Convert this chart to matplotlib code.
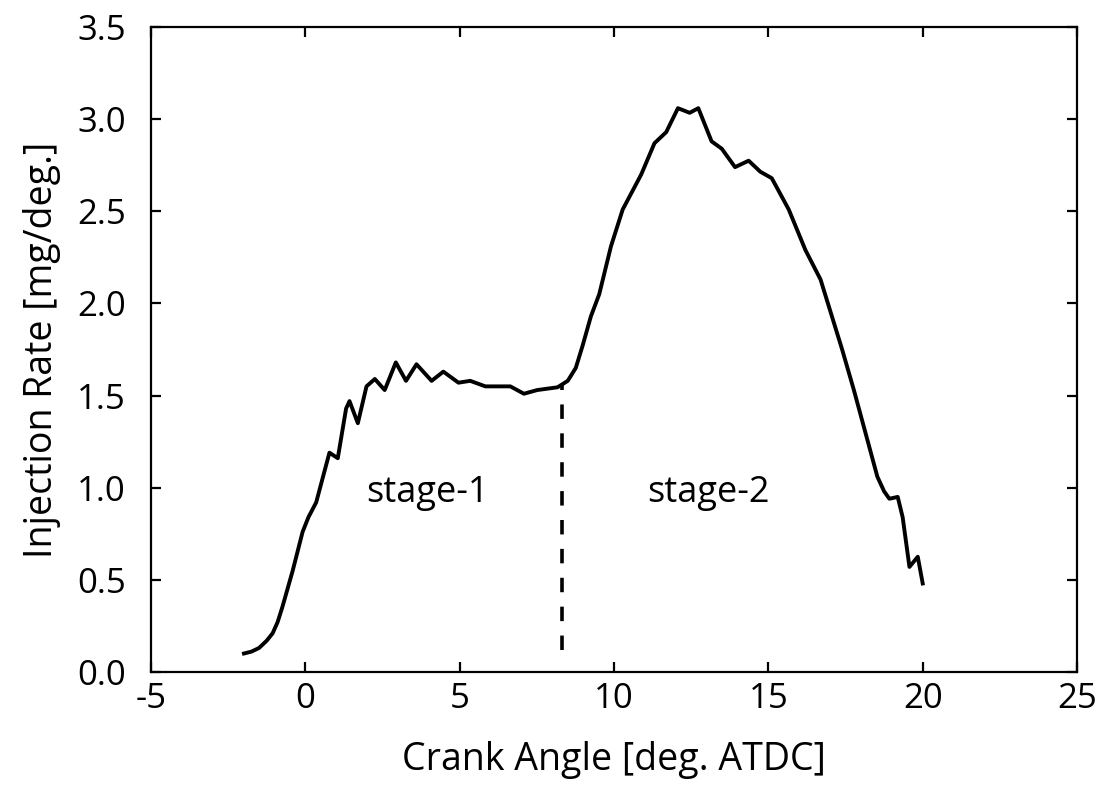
import matplotlib as mpl
import matplotlib.pyplot as plt

# Data
crank_angle = [-1.99, -1.75, -1.5, -1.25, -1.06, -0.90, -0.74, -0.41, -0.09, 0.10, 0.35,
               0.78, 1.05, 1.32, 1.43, 1.70, 1.98, 2.25, 2.57, 2.93, 3.26, 3.60, 4.09,
               4.47, 4.96, 5.34, 5.83, 6.64, 7.08, 7.51, 8.17, 8.50, 8.76, 8.98, 9.25,
               9.52, 9.90, 10.28, 10.88, 11.31, 11.69, 12.07, 12.45, 12.73, 13.16,
               13.49, 13.92, 14.36, 14.74, 15.11, 15.66, 16.2, 16.69, 17.39, 17.77,
               18.15, 18.53, 18.75, 18.92, 19.19, 19.35, 19.57, 19.84, 20.0]
inj_rate = [0.10, 0.11, 0.13, 0.17, 0.21, 0.27, 0.355, 0.55, 0.76, 0.84, 0.92,
            1.19, 1.16, 1.43, 1.47, 1.35, 1.55, 1.59, 1.53, 1.68, 1.58, 1.67, 1.58,
            1.63, 1.57, 1.58, 1.55, 1.55, 1.51, 1.53, 1.545, 1.58, 1.65, 1.77, 1.93,
            2.05, 2.31, 2.51, 2.70, 2.87, 2.93, 3.06, 3.035, 3.06, 2.88,
            2.84, 2.74, 2.775, 2.715, 2.68, 2.51, 2.29, 2.13, 1.75, 1.53,
            1.295, 1.06, 0.98, 0.94, 0.95, 0.84, 0.57, 0.625, 0.48]

split_x = 8.3
split_y = [0.12, 1.56]
stage_labels = ['stage-1', 'stage-2']
stage_x = [3.97, 13.06]
stage_y = [0.97, 0.97]

mpl.rcParams['font.family'] = ['Open Sans', 'DejaVu Sans']
mpl.rcParams['font.size'] = 25
mpl.rcParams['axes.unicode_minus'] = False
mpl.rcParams['axes.linewidth'] = 1.6
mpl.rcParams['xtick.direction'] = 'in'
mpl.rcParams['ytick.direction'] = 'in'
mpl.rcParams['xtick.top'] = True
mpl.rcParams['ytick.right'] = True
mpl.rcParams['xtick.major.size'] = 7
mpl.rcParams['ytick.major.size'] = 7
mpl.rcParams['xtick.major.width'] = 1.6
mpl.rcParams['ytick.major.width'] = 1.6
mpl.rcParams['xtick.major.pad'] = 7
mpl.rcParams['ytick.major.pad'] = 18

fig = plt.figure(figsize=(11.13, 7.98), dpi=100)
ax = fig.add_axes([0.1357, 0.158, 0.832, 0.808])

ax.plot(crank_angle, inj_rate, color='black', linewidth=2.8)
ax.plot([split_x, split_x], split_y, color='black', linewidth=2.6,
        linestyle=(0, (4, 4)))
for lab, tx, ty in zip(stage_labels, stage_x, stage_y):
    ax.text(tx, ty, lab, ha='center', va='center', fontsize=26)

ax.set_xlim(-5, 25)
ax.set_ylim(0, 3.5)
ax.set_xticks([-5, 0, 5, 10, 15, 20, 25])
ax.set_yticks([0, 0.5, 1.0, 1.5, 2.0, 2.5, 3.0, 3.5])
ax.set_yticklabels(['0.0', '0.5', '1.0', '1.5', '2.0', '2.5', '3.0', '3.5'])
ax.set_xlabel('Crank Angle [deg. ATDC]', fontsize=27, labelpad=18)
ax.set_ylabel('Injection Rate [mg/deg.]', fontsize=27, labelpad=12)

fig.savefig('out.png', dpi=100)
